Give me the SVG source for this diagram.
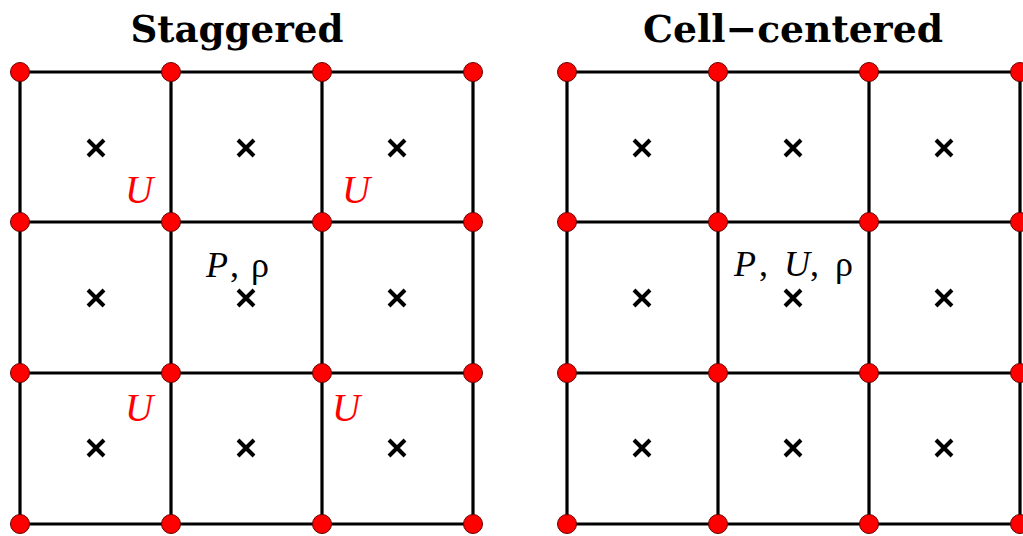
<svg xmlns="http://www.w3.org/2000/svg" width="1023" height="536" viewBox="0 0 1023 536">
<style>
.grid{stroke:#000;stroke-width:3.2;fill:none}
.node{fill:#ff0000;stroke:#600;stroke-width:1}
.cross{stroke:#000;stroke-width:4;stroke-linecap:butt}
.title{font-family:"DejaVu Serif",serif;font-weight:bold;font-size:38px;fill:#000}
.lbl{font-family:"Liberation Serif",serif;font-size:36px;fill:#000}
.u{font-family:"Liberation Serif",serif;font-style:italic;font-size:39px;fill:#ff0000}
</style>
<defs>
<g id="x"><path class="cross" d="M-8,-8L8,8M8,-8L-8,8"/></g>
<circle id="dot" class="node" r="9.5"/>
</defs>
<rect width="1023" height="536" fill="#fff"/>
<text class="title" x="237" y="42" text-anchor="middle" textLength="213" lengthAdjust="spacingAndGlyphs">Staggered</text>
<text class="title" x="793" y="42" text-anchor="middle" textLength="300" lengthAdjust="spacingAndGlyphs">Cell−centered</text>
<g id="connectors">
<path class="grid" d="M20,72H473M20,222H473M20,373H473M20,524H473M20,72V524M171,72V524M322,72V524M473,72V524"/>
<path class="grid" d="M567,72H1020M567,222H1020M567,373H1020M567,524H1020M567,72V524M718,72V524M869,72V524M1020,72V524"/>
</g>
<g id="crosses">
<use href="#x" x="96" y="148"/><use href="#x" x="246" y="148"/><use href="#x" x="397" y="148"/>
<use href="#x" x="96" y="298"/><use href="#x" x="246" y="298"/><use href="#x" x="397" y="298"/>
<use href="#x" x="96" y="448"/><use href="#x" x="246" y="448"/><use href="#x" x="397" y="448"/>
<use href="#x" x="642" y="148"/><use href="#x" x="793" y="148"/><use href="#x" x="944" y="148"/>
<use href="#x" x="642" y="298"/><use href="#x" x="793" y="298"/><use href="#x" x="944" y="298"/>
<use href="#x" x="642" y="448"/><use href="#x" x="793" y="448"/><use href="#x" x="944" y="448"/>
</g>
<g id="nodes">
<g id="left-nodes">
<use href="#dot" x="20" y="72"/><use href="#dot" x="171" y="72"/><use href="#dot" x="322" y="72"/><use href="#dot" x="473" y="72"/>
<use href="#dot" x="20" y="222"/><use href="#dot" x="171" y="222"/><use href="#dot" x="322" y="222"/><use href="#dot" x="473" y="222"/>
<use href="#dot" x="20" y="373"/><use href="#dot" x="171" y="373"/><use href="#dot" x="322" y="373"/><use href="#dot" x="473" y="373"/>
<use href="#dot" x="20" y="524"/><use href="#dot" x="171" y="524"/><use href="#dot" x="322" y="524"/><use href="#dot" x="473" y="524"/>
</g>
<g id="right-nodes">
<use href="#dot" x="567" y="72"/><use href="#dot" x="718" y="72"/><use href="#dot" x="869" y="72"/><use href="#dot" x="1020" y="72"/>
<use href="#dot" x="567" y="222"/><use href="#dot" x="718" y="222"/><use href="#dot" x="869" y="222"/><use href="#dot" x="1020" y="222"/>
<use href="#dot" x="567" y="373"/><use href="#dot" x="718" y="373"/><use href="#dot" x="869" y="373"/><use href="#dot" x="1020" y="373"/>
<use href="#dot" x="567" y="524"/><use href="#dot" x="718" y="524"/><use href="#dot" x="869" y="524"/><use href="#dot" x="1020" y="524"/>
</g>
</g>
<g id="labels">
<text class="u" x="125" y="203">U</text>
<text class="u" x="342" y="203">U</text>
<text class="u" x="125" y="421">U</text>
<text class="u" x="332" y="421">U</text>
<text class="lbl" y="277"><tspan x="206" font-style="italic">P</tspan><tspan x="230">,</tspan><tspan x="251">ρ</tspan></text>
<text class="lbl" y="276"><tspan x="734" font-style="italic">P</tspan><tspan x="759">,</tspan><tspan x="784" font-style="italic">U</tspan><tspan x="810">,</tspan><tspan x="835">ρ</tspan></text>
</g>
</svg>
